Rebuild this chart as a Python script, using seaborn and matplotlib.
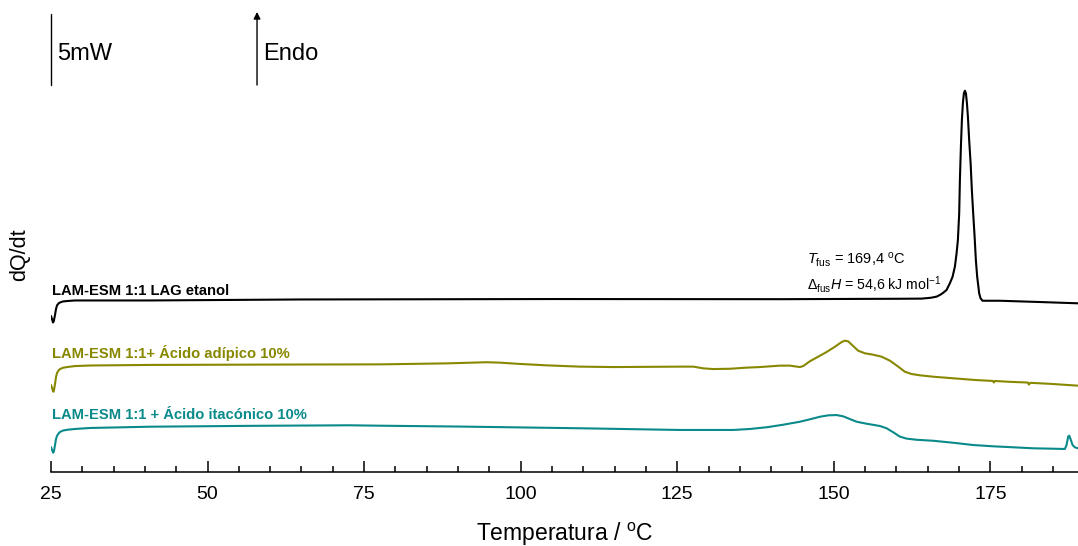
import matplotlib
matplotlib.use("Agg")
import matplotlib.pyplot as plt
import seaborn as sns
import pandas as pd

# DSC curves (temperature in °C, heat flow in mW, traces stacked with offsets)
temp_lag = [25.00, 25.16, 25.32, 25.45, 25.64, 25.80, 25.96, 26.20, 26.44, 26.92,
            27.55, 28.83, 40.81, 64.76, 104.67, 141.40, 160.56, 164.00, 165.50,
            166.42, 167.00, 167.47, 168.01, 168.54, 168.97, 169.34, 169.61, 169.82,
            170.03, 170.14, 170.30, 170.46, 170.62, 170.78, 170.94, 171.10, 171.26,
            171.42, 171.62, 171.85, 172.05, 172.26, 172.49, 172.69, 172.90, 173.06,
            173.22, 173.44, 173.76, 176.53, 182.91, 188.98]
flow_lag = [10.99, 10.77, 10.53, 10.63, 11.06, 11.48, 11.73, 11.87, 11.94, 12.01,
            12.04, 12.08, 12.08, 12.15, 12.18, 12.17, 12.20, 12.21, 12.27,
            12.35, 12.48, 12.62, 12.82, 13.29, 13.75, 14.46, 15.40, 16.34,
            18.24, 20.56, 22.91, 24.79, 25.99, 26.67, 26.85, 26.67, 25.99,
            25.02, 23.38, 21.76, 19.86, 18.24, 16.57, 14.93, 13.75, 13.17,
            12.58, 12.23, 12.06, 12.06, 11.97, 11.88]

temp_adip = [25.00, 25.16, 25.37, 25.48, 25.64, 25.80, 25.96, 26.20, 26.44, 26.92,
             27.55, 28.83, 31.23, 40.81, 64.76, 77.53, 88.18, 94.57, 96.69, 99.88,
             104.15, 109.46, 114.78, 125.43, 127.56, 129.15, 130.75, 133.41, 136.08,
             138.20, 141.40, 143.00, 144.59, 145.12, 146.19, 147.51, 148.85, 150.18,
             151.25, 151.78, 152.30, 153.10, 153.90, 154.97, 156.29, 157.64, 158.96,
             160.29, 161.36, 162.43, 163.75, 165.88, 169.07, 172.53, 175.41, 175.57,
             175.73, 178.12, 181.00, 181.15, 181.40, 184.51, 188.98]
flow_adip = [6.13, 5.92, 5.65, 5.77, 6.20, 6.69, 6.97, 7.15, 7.25, 7.34,
             7.39, 7.46, 7.50, 7.54, 7.57, 7.58, 7.65, 7.73, 7.70, 7.61,
             7.51, 7.42, 7.39, 7.42, 7.42, 7.30, 7.25, 7.27, 7.35,
             7.39, 7.49, 7.49, 7.39, 7.46, 7.80, 8.12, 8.45, 8.82,
             9.15, 9.25, 9.20, 8.87, 8.54, 8.36, 8.26, 8.12, 7.84,
             7.42, 7.06, 6.90, 6.81, 6.71, 6.60, 6.48, 6.41, 6.30,
             6.41, 6.35, 6.30, 6.16, 6.28, 6.21, 6.08]

temp_itac = [25.00, 25.16, 25.37, 25.48, 25.64, 25.80, 25.96, 26.20, 26.44, 26.92,
             27.55, 28.83, 31.23, 40.81, 56.77, 72.74, 77.53, 90.30, 109.46, 125.43,
             128.62, 133.94, 136.61, 139.27, 141.93, 144.59, 146.19, 147.78, 149.11,
             150.45, 151.51, 152.57, 153.65, 155.24, 157.36, 158.43, 159.49, 160.56,
             161.63, 163.22, 165.88, 169.07, 172.26, 175.45, 178.65, 181.84, 185.03,
             186.90, 187.17, 187.43, 187.59, 187.81, 188.13, 188.50, 188.98]
flow_itac = [1.76, 1.55, 1.36, 1.48, 1.90, 2.32, 2.54, 2.71, 2.82, 2.92,
             2.97, 3.03, 3.10, 3.19, 3.25, 3.29, 3.26, 3.20, 3.08, 2.96,
             2.96, 2.96, 3.03, 3.15, 3.33, 3.54, 3.71, 3.89, 3.99,
             4.01, 3.92, 3.73, 3.54, 3.40, 3.24, 3.08, 2.80, 2.49,
             2.35, 2.27, 2.20, 2.06, 1.90, 1.81, 1.74, 1.67, 1.64,
             1.62, 1.90, 2.49, 2.56, 2.32, 1.90, 1.74, 1.67]

series_names = ["LAM-ESM 1:1 LAG etanol",
                "LAM-ESM 1:1+ Ácido adípico 10%",
                "LAM-ESM 1:1 + Ácido itacónico 10%"]
series_colors = ["#000000", "#888800", "#0a8a8a"]
label_levels = [12.75, 8.38, 4.01]

major_ticks = [25, 50, 75, 100, 125, 150, 175]
scale_bar_mw = 5

sns.set_theme(style="white")
plt.rcParams["font.family"] = ["Liberation Sans", "DejaVu Sans"]
plt.rcParams["text.color"] = "black"
plt.rcParams["axes.labelcolor"] = "black"
plt.rcParams["xtick.color"] = "black"
plt.rcParams["mathtext.fontset"] = "custom"
plt.rcParams["mathtext.rm"] = "Liberation Sans"
plt.rcParams["mathtext.it"] = "Liberation Sans:italic"
plt.rcParams["mathtext.bf"] = "Liberation Sans:bold"

fig = plt.figure(figsize=(10.78, 5.46), dpi=100)
ax = fig.add_axes([51 / 1078, 74 / 546, 1 - 51 / 1078, 472 / 546])

frames = [
    pd.DataFrame({"T": temp_lag, "Q": flow_lag}),
    pd.DataFrame({"T": temp_adip, "Q": flow_adip}),
    pd.DataFrame({"T": temp_itac, "Q": flow_itac}),
]
for df, color in zip(frames, series_colors):
    sns.lineplot(data=df, x="T", y="Q", ax=ax, color=color, linewidth=1.5,
                 estimator=None, sort=False)

for name, color, level in zip(series_names, series_colors, label_levels):
    ax.text(25.2, level, name, color=color, fontsize=10.6, fontweight="bold",
            ha="left", va="center")

ax.set_xlim(25, 189)
ax.set_ylim(0, 472 / 14.2)

ax.set_xticks(major_ticks)
ax.set_xticks(range(25, 190, 5), minor=True)
ax.tick_params(axis="x", which="major", direction="in", length=8, width=1.1,
               labelsize=14, pad=10, bottom=True, colors="black")
ax.tick_params(axis="x", which="minor", direction="in", length=4.5, width=1.1,
               bottom=True)
ax.set_yticks([])
for side in ["top", "right", "left"]:
    ax.spines[side].set_visible(False)
ax.spines["bottom"].set_color("black")
ax.spines["bottom"].set_linewidth(1.1)

ax.set_xlabel(r"Temperatura / $^{\rm o}$C", fontsize=16.5, labelpad=13, color="black")
ax.set_ylabel("")
fig.text(20 / 1078, 1 - 255 / 546, "dQ/dt", rotation=90, fontsize=15.5,
         ha="center", va="center")

# heat-flow scale bar and endothermic direction arrow
bar_top = 32.25
ax.plot([25, 25], [bar_top - scale_bar_mw, bar_top], color="black", lw=1.0,
        clip_on=False)
ax.text(25.95, 29.45, f"{scale_bar_mw}mW", fontsize=17,
        ha="left", va="center")
ax.annotate("", xy=(57.9, 32.4), xytext=(57.9, bar_top - scale_bar_mw),
            arrowprops=dict(arrowstyle="-|>", color="black", lw=1.0,
                            mutation_scale=10, shrinkA=0, shrinkB=0))
ax.text(58.85, 29.45, "Endo", fontsize=17,
        ha="left", va="center")

# melting annotation
ax.text(145.7, 14.93, r"$T_{\rm fus}$ = 169,4 $^{\rm o}$C", fontsize=10.5,
        ha="left", va="center")
ax.text(145.7, 13.17, r"$\Delta_{\rm fus}H$ = 54,6 kJ mol$^{-1}$", fontsize=10.2,
        ha="left", va="center")

fig.savefig("out.png", dpi=100)
